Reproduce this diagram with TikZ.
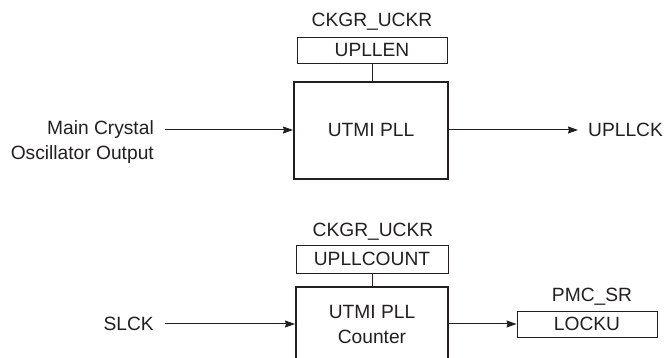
\documentclass[tikz,border=0pt]{standalone}
\usepackage{fontspec}
\setmainfont{Liberation Sans}
\usetikzlibrary{arrows.meta}
\definecolor{ink}{HTML}{231F20}
\begin{document}
\begin{tikzpicture}[x=1pt,y=-1pt,
  every node/.style={text=ink,font=\fontsize{19.2}{25}\selectfont,inner sep=0pt},
  reg/.style={draw=ink,line width=0.9pt,text height=13.7pt,text depth=0pt},
  blk/.style={draw=ink,line width=2pt,align=center},
  lbl/.style={text height=13.7pt,text depth=0pt},
  conn/.style={draw=ink,line width=1pt},
  arr/.style={conn,-{Stealth[length=10pt,width=7pt,inset=1pt]}}]
\useasboundingbox (0,0) rectangle (665,358);
\clip (0,0) rectangle (665,358);
% upper group
\node[lbl] (t1) at (372,20) {CKGR\_UCKR};
\node[reg,minimum width=150pt,minimum height=26pt] (r1) at (372,50) {UPLLEN};
\node[blk,minimum width=154pt,minimum height=97pt] (pll) at (371,130.5) {};
\node[lbl] (plltxt) at (371,130) {UTMI PLL};
\node[align=right,anchor=base east] (in1) at (154,159.8) {Main Crystal\\Oscillator Output};
\node[lbl,anchor=west] (out1) at (588,130) {UPLLCK};
\draw[conn] (r1.south) -- (r1.south |- pll.north);
\coordinate (in1s) at (165,130);
\draw[arr] (in1s) -- (pll.west |- in1s);
\coordinate (out1e) at (578,130);
\draw[arr] (pll.east |- out1e) -- (out1e);
% lower group
\node[lbl] (t2) at (373,230) {CKGR\_UCKR};
\node[reg,minimum width=152pt,minimum height=28pt] (r2) at (372,259) {UPLLCOUNT};
\node[blk,minimum width=152pt,minimum height=74pt] (cnt) at (372,324) {};
\node[align=center,anchor=base] (cnttxt) at (372,343.8) {UTMI PLL\\Counter};
\draw[conn] (r2.south) -- (r2.south |- cnt.north);
\node[lbl,anchor=east] (slck) at (154,324) {SLCK};
\coordinate (slcks) at (165,324);
\draw[arr] (slcks) -- (cnt.west |- slcks);
\node[lbl] (t3) at (592,295) {PMC\_SR};
\node[reg,minimum width=140pt,minimum height=26pt] (lock) at (587,324) {LOCKU};
\draw[arr] (cnt.east |- lock.west) -- (lock.west);
\end{tikzpicture}
\end{document}
